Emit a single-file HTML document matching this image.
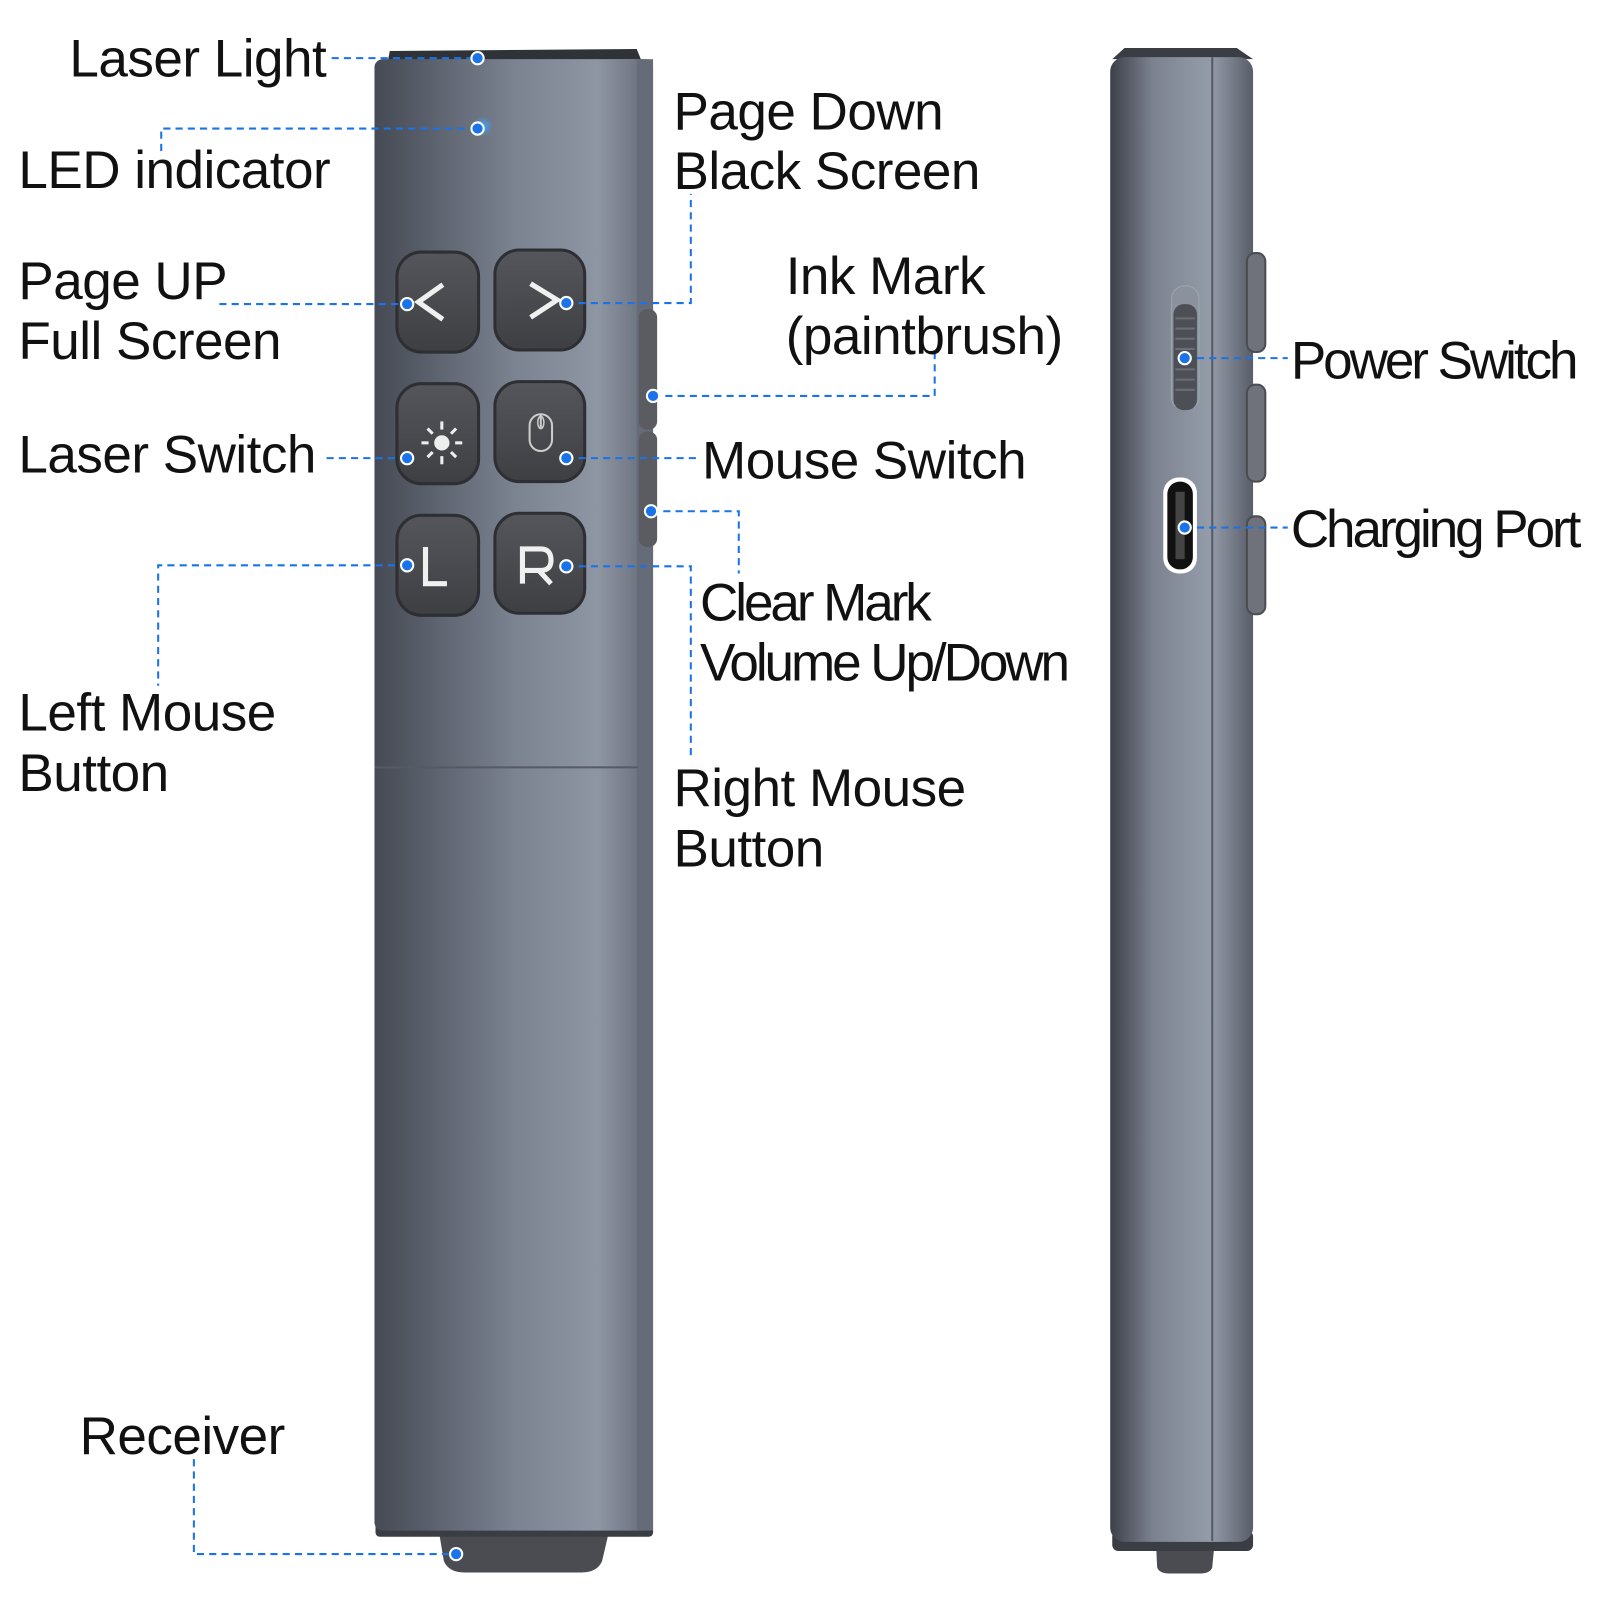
<!DOCTYPE html>
<html><head><meta charset="utf-8">
<style>
html,body{margin:0;padding:0;background:#fff;}
svg{display:block}
text{font-family:"Liberation Sans",sans-serif;font-size:52px;fill:#111;letter-spacing:-0.5px}
.c{letter-spacing:-3px}
</style></head><body>
<svg width="1600" height="1600" viewBox="0 0 1568 1568" xmlns="http://www.w3.org/2000/svg">
<defs>
<linearGradient id="fb" x1="0" x2="1" y1="0" y2="0">
<stop offset="0" stop-color="#454a54"/><stop offset="0.5" stop-color="#7b8290"/><stop offset="0.8" stop-color="#8f96a3"/><stop offset="1" stop-color="#636976"/></linearGradient>
<linearGradient id="sb" x1="0" x2="1"><stop offset="0" stop-color="#3c4048"/><stop offset="0.3" stop-color="#7c828f"/><stop offset="0.7" stop-color="#959ca9"/><stop offset="1" stop-color="#585d68"/></linearGradient>
<linearGradient id="bt" x1="0" y1="0" x2="0" y2="1"><stop offset="0" stop-color="#55565b"/><stop offset="1" stop-color="#3e3f43"/></linearGradient>
<radialGradient id="glow"><stop offset="0" stop-color="#39a6ff"/><stop offset="1" stop-color="#39a6ff" stop-opacity="0"/></radialGradient>
</defs>
<path d="M382 50 L624 48 L628 58 L380 60 Z" fill="#2f3237"/>
<path d="M430 1500 L597 1500 L590 1530 Q585 1541 570 1541 L455 1541 Q440 1541 435 1530 Z" fill="#4a4c52"/>
<rect x="368" y="1490" width="272" height="16" rx="4" fill="#3a3d43"/>
<rect x="367" y="58" width="273" height="1442" rx="8" fill="url(#fb)"/>
<rect x="624" y="58" width="16" height="1442" fill="#656b77"/>
<line x1="367" y1="752" x2="625" y2="752" stroke="#555a64" stroke-width="2"/>
<rect x="626" y="303" width="18" height="118" rx="8" fill="#5a5c61"/>
<rect x="626" y="423" width="18" height="113" rx="8" fill="#5a5c61"/>
<circle cx="473" cy="124" r="10" fill="url(#glow)"/>
<g stroke="#2e2f33" stroke-width="3" fill="url(#bt)">
<rect x="389" y="247" width="80" height="98" rx="24"/>
<rect x="485" y="245" width="88" height="98" rx="24"/>
<rect x="389" y="376" width="80" height="98" rx="24"/>
<rect x="485" y="374" width="88" height="98" rx="24"/>
<rect x="389" y="505" width="80" height="98" rx="24"/>
<rect x="485" y="503" width="88" height="98" rx="24"/>
</g>
<g stroke="#f0f0f0" stroke-width="5" fill="none">
<polyline points="434,279 410,296 434,313"/>
<polyline points="520,278 546,294 520,311"/>
<polyline points="417,536 417,572 438,572"/>
<path d="M512,572 V538 H530 Q540,538 540,549 Q540,559 530,559 H512 M528,559 L540,572"/>
</g>
<g stroke="#eee" stroke-width="3">
<circle cx="433" cy="434" r="6" fill="#eee"/>
<line x1="433" y1="413" x2="433" y2="421"/><line x1="433" y1="447" x2="433" y2="455"/>
<line x1="413" y1="434" x2="420" y2="434"/><line x1="446" y1="434" x2="453" y2="434"/>
<line x1="419" y1="420" x2="424" y2="425"/><line x1="442" y1="443" x2="447" y2="448"/>
<line x1="447" y1="420" x2="442" y2="425"/><line x1="419" y1="448" x2="424" y2="443"/>
</g>
<rect x="519" y="406" width="22" height="36" rx="11" fill="none" stroke="#ccc" stroke-width="2"/>
<line x1="530" y1="406" x2="530" y2="420" stroke="#ccc" stroke-width="2"/>
<ellipse cx="530" cy="414" rx="3" ry="6" fill="none" stroke="#ccc" stroke-width="1.5"/>
<path d="M1102 47 L1212 47 L1228 58 L1090 58 Z" fill="#3a3d43"/>
<path d="M1133 1515 L1190 1515 L1188 1536 Q1186 1542 1176 1542 L1146 1542 Q1136 1542 1134 1536 Z" fill="#4a4c52"/>
<rect x="1090" y="1500" width="138" height="20" rx="6" fill="#3a3d43"/>
<rect x="1088" y="56" width="140" height="1455" rx="14" fill="url(#sb)"/>
<line x1="1188" y1="56" x2="1188" y2="1510" stroke="#555a64" stroke-width="2"/>
<g fill="#6f727a" stroke="#4a4d53" stroke-width="2">
<rect x="1222" y="248" width="18" height="97" rx="8"/>
<rect x="1222" y="377" width="18" height="95" rx="8"/>
<rect x="1222" y="506" width="18" height="96" rx="8"/>
</g>
<rect x="1148" y="280" width="27" height="122" rx="13" fill="#8c929d" stroke="#9aa" stroke-width="1"/>
<rect x="1150" y="298" width="23" height="104" rx="10" fill="#4c4f55"/>
<g stroke="#6b6e75" stroke-width="2">
<line x1="1152" y1="312" x2="1171" y2="312"/><line x1="1152" y1="322" x2="1171" y2="322"/><line x1="1152" y1="332" x2="1171" y2="332"/><line x1="1152" y1="342" x2="1171" y2="342"/><line x1="1152" y1="362" x2="1171" y2="362"/><line x1="1152" y1="372" x2="1171" y2="372"/><line x1="1152" y1="382" x2="1171" y2="382"/>
</g>
<rect x="1140" y="468" width="33" height="94" rx="15" fill="#fff"/>
<rect x="1144" y="472" width="25" height="86" rx="12" fill="#111"/>
<rect x="1152" y="482" width="9" height="66" fill="#444"/>
<g stroke="#1a73e8" stroke-width="2" stroke-dasharray="7,5" fill="none">
<polyline points="325,57 468,57"/>
<polyline points="158,148 158,126 468,126"/>
<polyline points="215,298 399,298"/>
<polyline points="555,297 677,297 677,190"/>
<polyline points="640,388 916,388 916,345"/>
<polyline points="320,449 399,449"/>
<polyline points="555,449 683,449"/>
<polyline points="638,501 724,501 724,562"/>
<polyline points="399,554 155,554 155,672"/>
<polyline points="555,555 677,555 677,745"/>
<polyline points="190,1430 190,1523 447,1523"/>
<polyline points="1161,351 1262,351"/>
<polyline points="1161,517 1262,517"/>
</g>
<g fill="#1a73e8" stroke="#fff" stroke-width="2">
<circle cx="468" cy="57" r="6"/><circle cx="468" cy="126" r="6"/>
<circle cx="399" cy="298" r="6"/><circle cx="555" cy="297" r="6"/>
<circle cx="640" cy="388" r="6"/><circle cx="399" cy="449" r="6"/>
<circle cx="555" cy="449" r="6"/><circle cx="638" cy="501" r="6"/>
<circle cx="399" cy="554" r="6"/><circle cx="555" cy="555" r="6"/>
<circle cx="447" cy="1523" r="6"/><circle cx="1161" cy="351" r="6"/>
<circle cx="1161" cy="517" r="6"/>
</g>
<text x="68" y="75">Laser Light</text>
<text x="18" y="184">LED indicator</text>
<text x="18" y="293">Page UP</text>
<text x="18" y="352">Full Screen</text>
<text x="18" y="463">Laser Switch</text>
<text x="18" y="716">Left Mouse</text>
<text x="18" y="775">Button</text>
<text x="78" y="1425">Receiver</text>
<text x="660" y="127">Page Down</text>
<text x="660" y="185">Black Screen</text>
<text x="770" y="288">Ink Mark</text>
<text x="770" y="347">(paintbrush)</text>
<text x="688" y="469">Mouse Switch</text>
<text x="686" y="608" class="c">Clear Mark</text>
<text x="686" y="667" class="c">Volume Up/Down</text>
<text x="660" y="790">Right Mouse</text>
<text x="660" y="849">Button</text>
<text x="1265" y="371" class="c">Power Switch</text>
<text x="1265" y="536" class="c">Charging Port</text>
</svg>
</body></html>
